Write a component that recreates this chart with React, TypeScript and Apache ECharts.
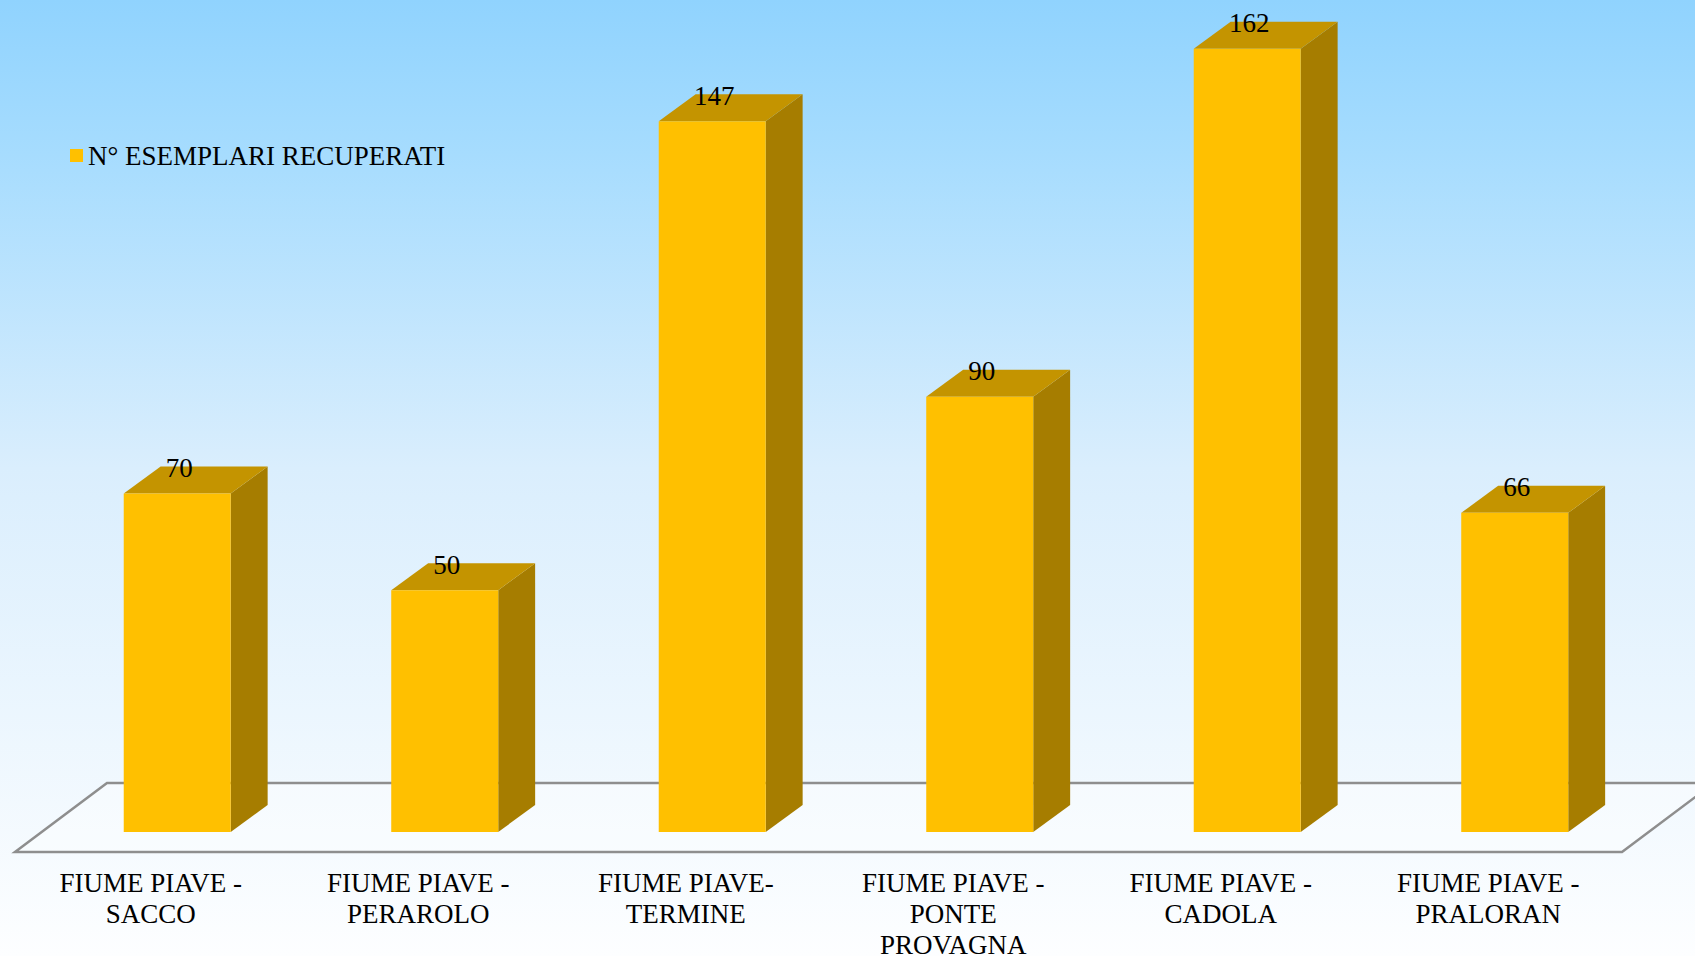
import React, { useEffect, useRef } from "react";
import * as echarts from "echarts";

const categories = [
  "FIUME PIAVE -\nSACCO",
  "FIUME PIAVE -\nPERAROLO",
  "FIUME PIAVE-\nTERMINE",
  "FIUME PIAVE -\nPONTE\nPROVAGNA",
  "FIUME PIAVE -\nCADOLA",
  "FIUME PIAVE -\nPRALORAN",
];
const seriesName = "N° ESEMPLARI RECUPERATI";
const values = [70, 50, 147, 90, 162, 66];

const FRONT = "#FFC000";
const TOP = "#C49400";
const SIDE = "#A67D00";
const FONT = "'Liberation Serif', 'Times New Roman', serif";

export default function App() {
  const ref = useRef<HTMLDivElement>(null);
  useEffect(() => {
    if (!ref.current) return;
    const chart = echarts.init(ref.current, undefined, { renderer: "svg" });
    const option: any = {
      animation: false,
      backgroundColor: {
        type: "linear",
        x: 0,
        y: 0,
        x2: 0,
        y2: 1,
        colorStops: [
          { offset: 0, color: "#90D3FE" },
          { offset: 0.16, color: "#A6DCFE" },
          { offset: 0.49, color: "#DAEEFD" },
          { offset: 1, color: "#FDFEFF" },
        ],
      },
      grid: {
        left: 17,
        right: 73,
        top: 10,
        bottom: 124,
        containLabel: false,
        outerBoundsMode: "none",
      },
      legend: {
        left: 70,
        top: 142,
        padding: 0,
        icon: "rect",
        itemWidth: 13,
        itemHeight: 13,
        itemGap: 6,
        textStyle: { fontFamily: FONT, fontSize: 27, color: "#000" },
        data: [{ name: seriesName, itemStyle: { color: FRONT } }],
      },
      graphic: {
        elements: [
          {
            type: "polygon",
            z: 0,
            silent: true,
            shape: {
              points: [
                [15, 852],
                [1622, 852],
                [1714, 783],
                [107, 783],
              ],
            },
            style: { fill: "rgba(255,255,255,0.35)", stroke: "#8E8E8E", lineWidth: 2.5 },
          },
        ],
      },
      xAxis: {
        type: "category",
        data: categories,
        boundaryGap: true,
        axisLine: { show: false },
        axisTick: { show: false },
        splitLine: { show: false },
        axisLabel: {
          interval: 0,
          margin: 35,
          fontFamily: FONT,
          fontSize: 27,
          lineHeight: 31,
          color: "#000",
          verticalAlign: "top",
        },
      },
      yAxis: {
        type: "value",
        min: 0,
        max: 170,
        show: false,
      },
      series: [
        {
          type: "custom",
          name: seriesName,
          data: values.map((v, i) => [i, v]),
          z: 5,
          renderItem: (params: any, api: any) => {
            const top = api.coord([api.value(0), api.value(1)]);
            const base = api.coord([api.value(0), 0]);
            const bw = api.size([1, 0])[0];
            const x0 = top[0] - 0.101 * bw;
            const w = 0.4 * bw;
            const dx = 0.138 * bw;
            const dy = -0.101 * bw;
            const x1 = x0 + w;
            const yT = top[1];
            const yB = base[1];
            return {
              type: "group",
              children: [
                {
                  type: "polygon",
                  shape: {
                    points: [
                      [x1, yB],
                      [x1 + dx, yB + dy],
                      [x1 + dx, yT + dy],
                      [x1, yT],
                    ],
                  },
                  style: { fill: SIDE },
                },
                {
                  type: "polygon",
                  shape: {
                    points: [
                      [x0, yT],
                      [x1, yT],
                      [x1 + dx, yT + dy],
                      [x0 + dx, yT + dy],
                    ],
                  },
                  style: { fill: TOP },
                },
                {
                  type: "rect",
                  shape: { x: x0, y: yT, width: w, height: yB - yT },
                  style: { fill: FRONT },
                },
                {
                  type: "text",
                  x: x0 + w / 2 + 2,
                  y: yT - 12,
                  style: {
                    text: String(api.value(1)),
                    font: `27px ${FONT}`,
                    fill: "#000",
                    align: "center",
                    verticalAlign: "bottom",
                  },
                },
              ],
            };
          },
        },
      ],
    };
    chart.setOption(option);
    return () => chart.dispose();
  }, []);
  return (
    <div
      ref={ref}
      style={{ position: "fixed", left: 0, top: 0, width: 1695, height: 956 }}
    />
  );
}
